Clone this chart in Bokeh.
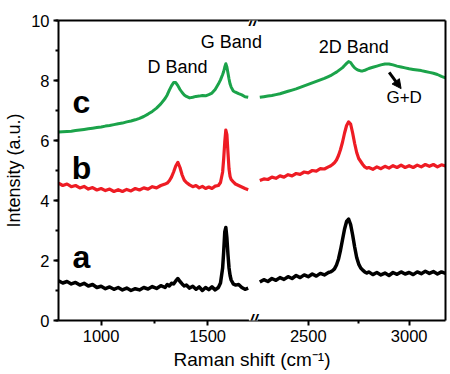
from bokeh.plotting import figure
from bokeh.models import (Range1d, FixedTicker, SingleIntervalTicker, LinearAxis,
                          CustomJSTickFormatter, Label, Arrow, NormalHead)
from bokeh.embed import file_html
from bokeh.resources import INLINE

# ---------------- data ----------------
shift_left = [800, 820, 840, 860, 880, 900, 920, 940, 960, 980, 1000, 1020, 1040, 1060,
              1080, 1100, 1120, 1140, 1160, 1180, 1200, 1220, 1240, 1260, 1280, 1300,
              1310, 1320, 1330, 1340, 1350, 1360, 1370, 1380, 1390, 1400,
              1415, 1430, 1445, 1460, 1475, 1490, 1505, 1520, 1535, 1550,
              1560, 1570, 1575, 1580, 1585, 1590, 1595, 1600, 1605, 1610, 1620, 1630,
              1645, 1660, 1675, 1690]

a_left = [1.32, 1.25, 1.30, 1.22, 1.27, 1.18, 1.24, 1.15, 1.20, 1.10, 1.14, 1.06, 1.12, 1.04,
          1.10, 1.02, 1.08, 1.00, 1.06, 1.02, 1.10, 1.05, 1.13, 1.07, 1.16, 1.10,
          1.20, 1.15, 1.24, 1.22, 1.32, 1.40, 1.30, 1.22, 1.15, 1.18,
          1.08, 1.14, 1.04, 1.12, 1.00, 1.10, 1.03, 1.12, 1.02, 1.10,
          1.25, 1.75, 2.30, 2.95, 3.10, 2.75, 2.20, 1.75, 1.50, 1.35, 1.22, 1.18,
          1.20, 1.10, 1.04, 1.08]

b_left = [4.58, 4.50, 4.55, 4.46, 4.50, 4.42, 4.47, 4.38, 4.43, 4.35, 4.40, 4.33, 4.38, 4.30,
          4.36, 4.30, 4.37, 4.32, 4.40, 4.35, 4.42, 4.38, 4.46, 4.42, 4.50, 4.55,
          4.58, 4.66, 4.78, 4.95, 5.15, 5.27, 5.10, 4.85, 4.68, 4.60,
          4.52, 4.46, 4.50, 4.42, 4.47, 4.40, 4.45, 4.40, 4.48, 4.50,
          4.60, 4.95, 5.40, 5.95, 6.35, 6.20, 5.60, 5.05, 4.80, 4.70, 4.62, 4.55,
          4.50, 4.45, 4.40, 4.36]

c_left = [6.28, 6.29, 6.30, 6.31, 6.33, 6.35, 6.37, 6.39, 6.41, 6.43, 6.45, 6.48, 6.50, 6.53,
          6.56, 6.58, 6.62, 6.65, 6.69, 6.74, 6.80, 6.88, 6.97, 7.08, 7.22, 7.40,
          7.52, 7.68, 7.82, 7.93, 7.93, 7.83, 7.70, 7.60, 7.52, 7.47,
          7.42, 7.44, 7.47, 7.48, 7.50, 7.49, 7.53, 7.58, 7.70, 7.88,
          8.02, 8.20, 8.30, 8.45, 8.56, 8.45, 8.25, 8.05, 7.88, 7.78, 7.65, 7.61,
          7.56, 7.52, 7.46, 7.44]

shift_right = [2260, 2280, 2300, 2320, 2340, 2360, 2380, 2400, 2420, 2440, 2460, 2480,
               2500, 2520, 2540, 2560, 2580, 2600,
               2610, 2620, 2630, 2640, 2650, 2660, 2670, 2680, 2690, 2700,
               2710, 2720, 2730, 2740, 2750, 2760, 2770, 2780, 2790, 2800,
               2820, 2840, 2860, 2880, 2900, 2920, 2940, 2960, 2980, 3000,
               3020, 3040, 3060, 3080, 3100, 3120, 3140, 3160, 3180]

a_right = [1.28, 1.36, 1.30, 1.40, 1.34, 1.43, 1.37, 1.46, 1.40, 1.50, 1.43, 1.52,
           1.46, 1.55, 1.48, 1.57, 1.52, 1.60,
           1.62, 1.66, 1.72, 1.85, 2.05, 2.35, 2.70, 3.05, 3.30, 3.38,
           3.20, 2.85, 2.45, 2.10, 1.88, 1.75, 1.68, 1.62, 1.58, 1.62,
           1.53, 1.60, 1.52, 1.58, 1.50, 1.60, 1.54, 1.62, 1.55, 1.60,
           1.53, 1.62, 1.56, 1.64, 1.57, 1.63, 1.55, 1.62, 1.57]

b_right = [4.67, 4.72, 4.70, 4.78, 4.74, 4.82, 4.78, 4.86, 4.82, 4.90, 4.87, 4.95,
           4.92, 5.00, 4.98, 5.06, 5.05, 5.12,
           5.15, 5.20, 5.26, 5.35, 5.50, 5.70, 5.95, 6.25, 6.50, 6.62,
           6.55, 6.25, 5.90, 5.60, 5.40, 5.30, 5.20, 5.12, 5.08, 5.10,
           5.04, 5.12, 5.06, 5.14, 5.08, 5.16, 5.10, 5.18, 5.10, 5.16,
           5.10, 5.18, 5.12, 5.20, 5.14, 5.20, 5.12, 5.19, 5.15]

c_right = [7.44, 7.46, 7.48, 7.50, 7.53, 7.56, 7.60, 7.64, 7.68, 7.72, 7.77, 7.82,
           7.87, 7.92, 7.97, 8.02, 8.07, 8.13,
           8.16, 8.20, 8.24, 8.28, 8.33, 8.38, 8.43, 8.50, 8.57, 8.63,
           8.60, 8.50, 8.42, 8.37, 8.34, 8.32, 8.32, 8.34, 8.37, 8.40,
           8.44, 8.48, 8.52, 8.55, 8.55, 8.52, 8.48, 8.45, 8.42, 8.39,
           8.37, 8.35, 8.33, 8.30, 8.27, 8.24, 8.20, 8.14, 8.09]

major_ticks_cm = [1000, 1500, 2500, 3000]
minor_ticks_cm = [1250, 2750]

# ---------------- broken axis mapping ----------------
LEFT_MIN, LEFT_MAX = 800, 1714
RIGHT_MIN, RIGHT_MAX = 2228, 3180
K = 0.947  # relative scale of the right segment


def u(cm):
    if cm <= LEFT_MAX:
        return float(cm)
    return LEFT_MAX + (cm - RIGHT_MIN) * K


def uu(lst):
    return [u(v) for v in lst]


FONT = "Liberation Sans"
BLACK = "#000000"
RED = "#ee1c24"
GREEN = "#1ba34a"

p = figure(frame_width=387, frame_height=300,
           x_range=Range1d(LEFT_MIN, u(RIGHT_MAX)), y_range=Range1d(0, 10),
           output_backend="svg", toolbar_location=None,
           min_border_left=58, min_border_top=20, min_border_right=4,
           min_border_bottom=46)

p.xgrid.visible = False
p.ygrid.visible = False
p.outline_line_color = None

for xs, ys, col, lw in [(shift_left, a_left, BLACK, 3.5), (shift_right, a_right, BLACK, 3.5),
                        (shift_left, b_left, RED, 3.2), (shift_right, b_right, RED, 3.2),
                        (shift_left, c_left, GREEN, 3), (shift_right, c_right, GREEN, 3)]:
    p.line(uu(xs), ys, line_color=col, line_width=lw, line_join="round")

bottom_axis = p.below[0]
left_axis = p.left[0]

# frame lines on top and right (no ticks, no labels)
for side in ("above", "right"):
    ax = LinearAxis(ticker=FixedTicker(ticks=[], minor_ticks=[]),
                    axis_line_width=2, axis_line_color="black",
                    major_tick_line_color=None, minor_tick_line_color=None,
                    major_tick_out=0, minor_tick_out=0, major_label_standoff=0)
    p.add_layout(ax, side)

# axes
bottom_axis.ticker = FixedTicker(ticks=uu(major_ticks_cm), minor_ticks=uu(minor_ticks_cm))
bottom_axis.formatter = CustomJSTickFormatter(code="""
const B = %f, R = %f, K = %f;
return tick <= B + 1e-6 ? Math.round(tick).toString() : Math.round(R + (tick - B) / K).toString();
""" % (LEFT_MAX, RIGHT_MIN, K))
left_axis.ticker = SingleIntervalTicker(interval=2, num_minor_ticks=2)

for ax in (bottom_axis, left_axis):
    ax.axis_line_width = 2
    ax.axis_line_color = "black"
    ax.major_tick_line_width = 2
    ax.minor_tick_line_width = 2
    ax.major_tick_in = 0
    ax.major_tick_out = 5
    ax.minor_tick_in = 0
    ax.minor_tick_out = 3
    ax.major_label_text_font = FONT
    ax.major_label_text_font_size = "16.5px"
    ax.major_label_text_color = "black"
    ax.axis_label_text_font = FONT
    ax.axis_label_text_font_style = "normal"
    ax.axis_label_text_color = "black"
    ax.major_label_standoff = 4
    ax.axis_label_standoff = 4

bottom_axis.axis_label_text_font_size = "19px"
left_axis.axis_label_text_font_size = "18px"
bottom_axis.axis_label = "Raman shift (cm\u207b\u00b9)"
left_axis.axis_label = "Intensity (a.u.)"

# break marks on top and bottom
for yb in (0, 10):
    p.add_layout(Label(x=u(LEFT_MAX), y=yb, text="//", text_font=FONT,
                       text_font_size="16px", text_font_style="bold italic",
                       text_align="center", text_baseline="middle",
                       background_fill_color="white", text_color="black",
                       level="overlay"))

# sample labels
for txt, yv in (("c", 7.3), ("b", 5.07), ("a", 2.13)):
    p.add_layout(Label(x=u(908), y=yv, text=txt, text_font=FONT,
                       text_font_size="32px", text_font_style="bold",
                       text_align="center", text_baseline="alphabetic",
                       text_color="black"))

# band labels
for txt, xc, yv, fs in (("D Band", 1358, 8.45, "18px"), ("G Band", 1611, 9.3, "18px"),
                        ("2D Band", 2725, 9.12, "18px"), ("G+D", 2975, 7.45, "17px")):
    p.add_layout(Label(x=u(xc), y=yv, text=txt, text_font=FONT,
                       text_font_size=fs, text_align="center",
                       text_baseline="alphabetic", text_color="black"))

p.add_layout(Arrow(end=NormalHead(size=9, fill_color="black", line_color="black"),
                   x_start=u(2901), y_start=8.27, x_end=u(2960), y_end=7.73,
                   line_width=3, line_color="black"))

open("out.html", "w").write(file_html(p, INLINE))
